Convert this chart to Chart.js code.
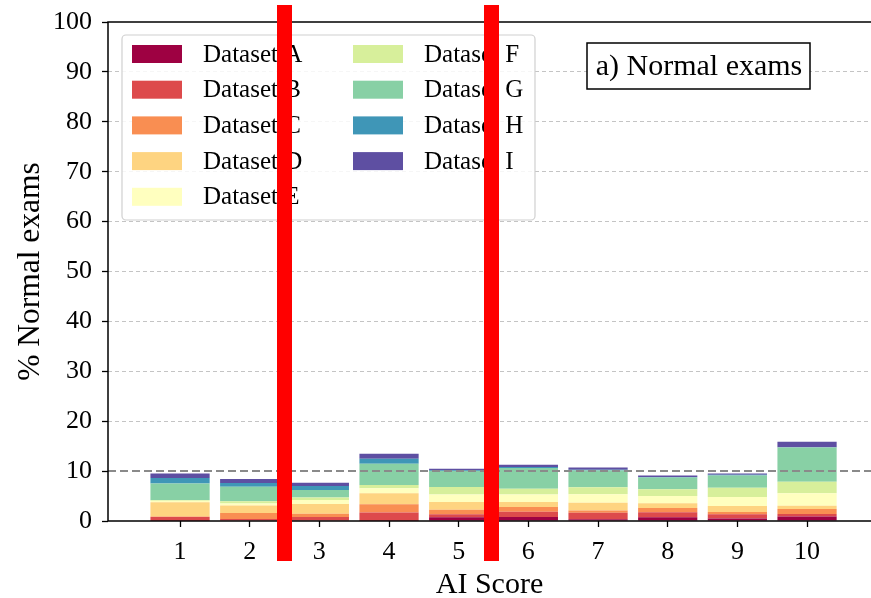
<!DOCTYPE html>
<html lang="en">
<head>
<meta charset="UTF-8">
<title>% Normal exams by AI Score</title>
<script src="https://cdn.jsdelivr.net/npm/chart.js@4.4.1/dist/chart.umd.min.js"></script>
<style>
    html, body { margin: 0; padding: 0; background: #fff; }
    #wrap { width: 871px; height: 598px; position: relative; }
</style>
</head>
<body>
<div id="wrap"><canvas id="score-chart" width="871" height="598"></canvas></div>
<script>
// データ
const aiScores = [1, 2, 3, 4, 5, 6, 7, 8, 9, 10];
const datasetNames = ['Dataset A', 'Dataset B', 'Dataset C', 'Dataset D', 'Dataset E',
                      'Dataset F', 'Dataset G', 'Dataset H', 'Dataset I'];
const datasetA = [0.05, 0.10, 0.10, 0.05, 0.75, 0.80, 0.35, 0.75, 0.50, 0.90];
const datasetB = [0.75, 0.30, 0.70, 1.65, 0.60, 1.07, 1.30, 1.00, 0.85, 0.50];
const datasetC = [0.10, 1.20, 0.65, 1.67, 0.90, 0.93, 0.45, 0.87, 0.45, 1.00];
const datasetD = [2.85, 1.50, 1.95, 2.20, 1.55, 1.00, 1.55, 0.95, 1.20, 0.67];
const datasetE = [0.30, 0.40, 0.80, 1.00, 1.50, 1.53, 1.70, 1.45, 1.80, 2.47];
const datasetF = [0.15, 0.45, 0.50, 0.65, 1.50, 1.13, 1.40, 1.33, 1.87, 2.33];
const datasetG = [3.30, 2.90, 1.50, 4.25, 3.20, 4.15, 3.35, 2.35, 2.45, 6.85];
const datasetH = [1.10, 0.75, 0.80, 1.00, 0.15, 0.20, 0.15, 0.13, 0.13, 0.05];
const datasetI = [0.90, 0.80, 0.65, 1.00, 0.30, 0.47, 0.45, 0.27, 0.25, 1.10];
const yTicks = [0, 10, 20, 30, 40, 50, 60, 70, 80, 90, 100];
const referenceLevel = 10;
const panelLabel = 'a) Normal exams';

// Spectral カラーマップ (9色)
const spectralColors = ['#9e0142', '#dd4a4c', '#f98e52', '#fed481', '#ffffbf',
                        '#d7ef9b', '#88d0a5', '#3f96b7', '#5e4fa2'];

const seriesValues = [datasetA, datasetB, datasetC, datasetD, datasetE,
                      datasetF, datasetG, datasetH, datasetI];

const serif = '"Liberation Serif", "Times New Roman", "DejaVu Serif", serif';

// 軸線・基準線・凡例・ラベルの描画
const overlayPlugin = {
    id: 'overlay',
    afterDatasetsDraw(chart) {
        const { ctx, chartArea, scales } = chart;
        const y = scales.y.getPixelForValue(referenceLevel);
        ctx.save();
        ctx.strokeStyle = '#8a8a8a';
        ctx.lineWidth = 2;
        ctx.setLineDash([8, 4]);
        ctx.beginPath();
        ctx.moveTo(chartArea.left, y);
        ctx.lineTo(chartArea.right, y);
        ctx.stroke();
        ctx.restore();
    },
    afterDraw(chart) {
        const { ctx, chartArea } = chart;
        ctx.save();

        // 枠線 (左・上・下)
        ctx.strokeStyle = '#000';
        ctx.lineWidth = 1.5;
        ctx.beginPath();
        ctx.moveTo(chartArea.right, chartArea.top);
        ctx.lineTo(chartArea.left, chartArea.top);
        ctx.lineTo(chartArea.left, chartArea.bottom);
        ctx.lineTo(chartArea.right, chartArea.bottom);
        ctx.stroke();

        // 凡例 (2列)
        const lx = 122, ly = 35, lw = 413, lh = 185;
        ctx.fillStyle = 'rgba(255,255,255,0.85)';
        ctx.strokeStyle = '#d0d0d0';
        ctx.lineWidth = 1.2;
        ctx.beginPath();
        ctx.roundRect(lx, ly, lw, lh, 4);
        ctx.fill();
        ctx.stroke();
        ctx.font = '25px ' + serif;
        ctx.textBaseline = 'middle';
        ctx.textAlign = 'left';
        chart.data.datasets.forEach((ds, i) => {
            const col = Math.floor(i / 5);
            const row = i % 5;
            const sx = col === 0 ? 132 : 353;
            const cy = 54 + row * 35.7;
            ctx.fillStyle = ds.backgroundColor;
            ctx.fillRect(sx, cy - 9, 50, 18);
            ctx.fillStyle = '#000';
            ctx.fillText(ds.label, sx + 71, cy + 1);
        });

        // パネルラベル
        ctx.fillStyle = '#fff';
        ctx.fillRect(587, 43, 223, 46);
        ctx.strokeStyle = '#000';
        ctx.lineWidth = 1.5;
        ctx.strokeRect(587, 43, 223, 46);
        ctx.fillStyle = '#000';
        ctx.font = '30px ' + serif;
        ctx.textAlign = 'center';
        ctx.fillText(panelLabel, 699, 67);

        // 赤い縦帯
        ctx.fillStyle = '#ff0000';
        ctx.fillRect(277, 5, 15, 556);
        ctx.fillRect(484, 5, 15, 556);

        ctx.restore();
    }
};

const ctx = document.getElementById('score-chart').getContext('2d');
const scoreChart = new Chart(ctx, {
    type: 'bar',
    data: {
        datasets: datasetNames.map((name, i) => ({
            label: name,
            data: aiScores.map((s, j) => ({ x: s, y: seriesValues[i][j] })),
            backgroundColor: spectralColors[i],
            borderWidth: 0,
            categoryPercentage: 1,
            barPercentage: 0.85
        }))
    },
    options: {
        responsive: false,
        animation: false,
        devicePixelRatio: 1,
        layout: { padding: { top: 22, left: 12, right: 0, bottom: 0 } },
        plugins: {
            legend: { display: false },
            tooltip: { enabled: false }
        },
        scales: {
            x: {
                type: 'linear',
                stacked: true,
                offset: false,
                min: -0.034,
                max: 10.918,
                afterBuildTicks: (scale) => {
                    scale.ticks = aiScores.map(v => ({ value: v }));
                },
                // 軸の高さを固定
                afterFit: (scale) => {
                    scale.height = 77;
                    scale.paddingLeft = 0;
                    scale.paddingRight = 0;
                },
                grid: {
                    offset: false,
                    drawOnChartArea: false,
                    drawTicks: true,
                    tickLength: 6,
                    tickColor: '#000',
                    tickWidth: 1.3
                },
                border: { display: false },
                ticks: {
                    autoSkip: false,
                    maxRotation: 0,
                    padding: 10,
                    color: '#000',
                    font: { family: serif, size: 26 },
                    callback: (value) => value
                },
                title: {
                    display: true,
                    text: 'AI Score',
                    color: '#000',
                    font: { family: serif, size: 30, lineHeight: 1.2 },
                    padding: { top: -2, bottom: -5 }
                }
            },
            y: {
                stacked: true,
                min: 0,
                max: 100,
                afterBuildTicks: (scale) => {
                    scale.ticks = yTicks.map(v => ({ value: v }));
                },
                // 軸の幅を固定し、上端の余白をレイアウトに任せる
                afterFit: (scale) => {
                    scale.width = 96;
                    scale.paddingTop = 0;
                    scale.paddingBottom = 0;
                },
                grid: {
                    color: (c) => [0, referenceLevel, 100].includes(c.tick && c.tick.value) ? 'rgba(0,0,0,0)' : '#c4c4c4',
                    lineWidth: 1,
                    tickLength: 6,
                    tickColor: '#000',
                    tickWidth: 1.3,
                    tickBorderDash: []
                },
                border: { display: false, dash: [4, 3] },
                ticks: {
                    padding: 10,
                    color: '#000',
                    font: { family: serif, size: 26 }
                },
                title: {
                    display: true,
                    text: '% Normal exams',
                    color: '#000',
                    font: { family: serif, size: 31.5, lineHeight: 1.2 },
                    padding: { top: 0, bottom: 0 }
                }
            }
        }
    },
    plugins: [overlayPlugin]
});
</script>
</body>
</html>
